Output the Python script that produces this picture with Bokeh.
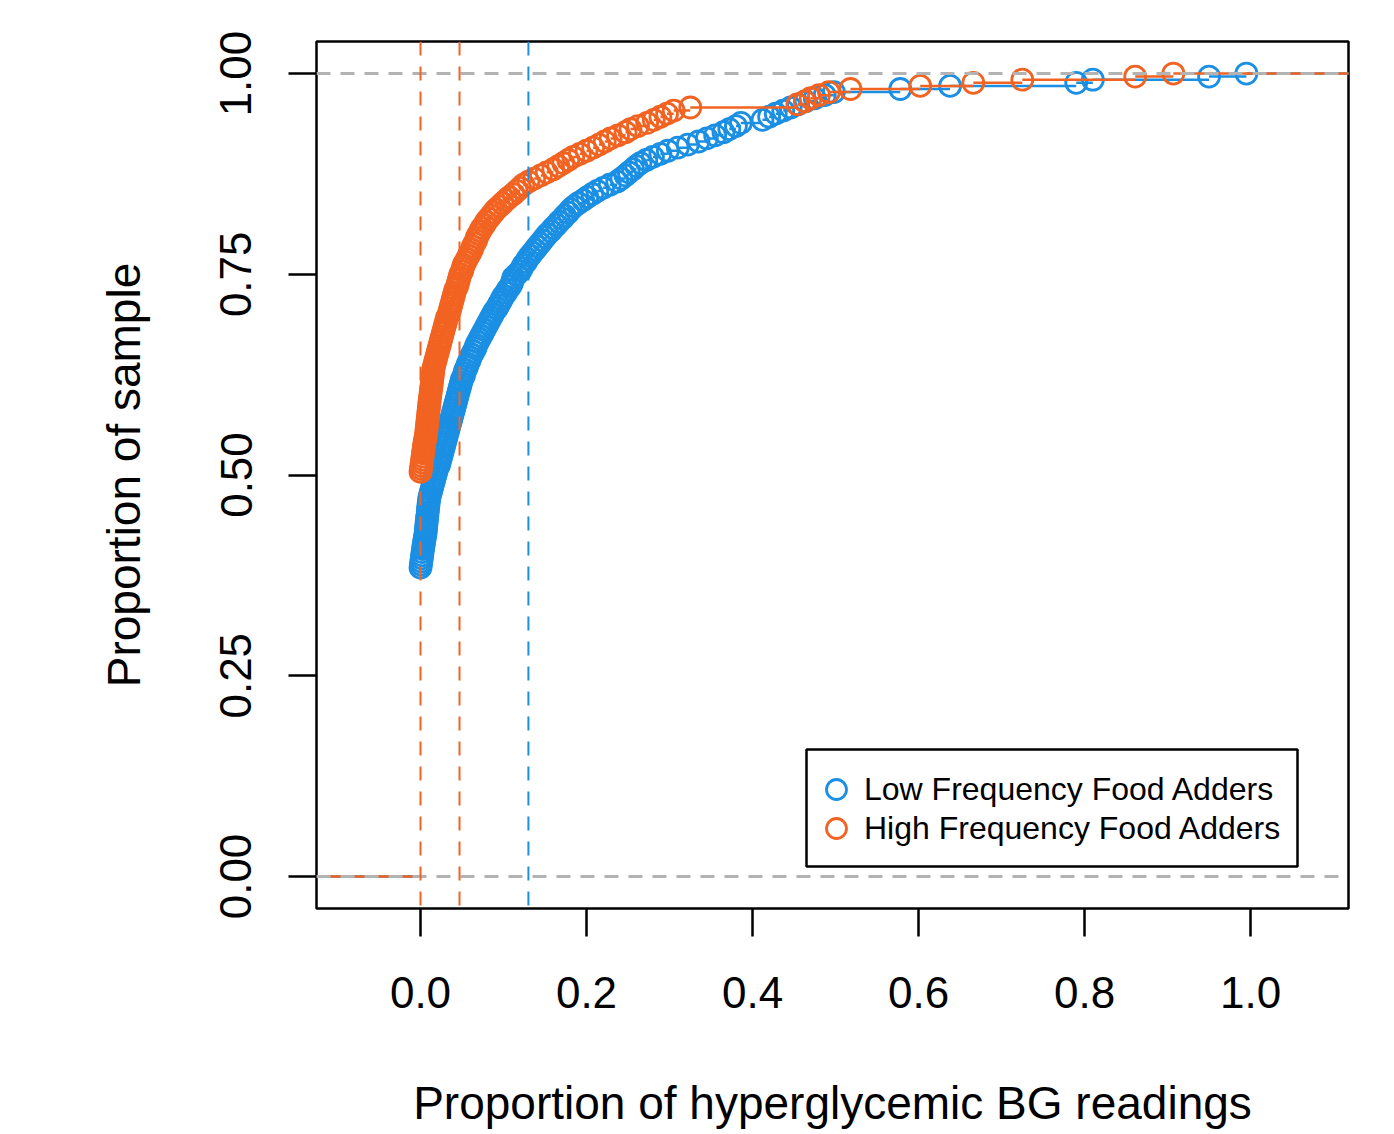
import numpy as np
from bokeh.plotting import figure
from bokeh.models import Range1d, FixedTicker, Legend, LegendItem, Span, BoxAnnotation
from bokeh.embed import file_html
from bokeh.resources import INLINE

# ---------------- data ----------------
series_names = ["Low Frequency Food Adders", "High Frequency Food Adders"]

# Low frequency group: number of participants with 0 hyperglycemic readings,
# then the positive proportions (sorted)
low_zero_count = 100
low_positive = [
    0.0005, 0.0010, 0.0015, 0.0020, 0.0025, 0.0030, 0.0036, 0.0042, 0.0048, 0.0054, 0.0060,
    0.0064, 0.0068, 0.0071, 0.0075, 0.0079, 0.0083, 0.0087, 0.0091, 0.0095, 0.0099, 0.0103,
    0.011, 0.012, 0.013, 0.014, 0.015, 0.016, 0.017, 0.018, 0.019, 0.020, 0.022,
    0.023, 0.024, 0.025, 0.026, 0.027, 0.028, 0.029, 0.030, 0.031, 0.032, 0.033,
    0.034, 0.035, 0.036, 0.037, 0.038, 0.039, 0.040, 0.041, 0.042, 0.043,
    0.044, 0.045, 0.046, 0.047, 0.048, 0.049, 0.050, 0.052, 0.053, 0.054, 0.056,
    0.057, 0.059, 0.060, 0.062, 0.064, 0.066, 0.067, 0.069, 0.071, 0.073,
    0.075, 0.077, 0.079, 0.081, 0.083, 0.085, 0.087, 0.089, 0.092, 0.094, 0.096,
    0.098, 0.100, 0.103, 0.105, 0.108, 0.110, 0.111, 0.112, 0.116, 0.120,
    0.122, 0.124, 0.127, 0.129, 0.132, 0.135, 0.138, 0.141, 0.144, 0.147, 0.150,
    0.153, 0.157, 0.160, 0.164, 0.167, 0.171, 0.174, 0.178, 0.181, 0.185,
    0.190, 0.196, 0.201, 0.207, 0.213, 0.220, 0.228, 0.237,
    0.242, 0.247, 0.251, 0.256, 0.260, 0.265,
    0.272, 0.280, 0.289, 0.298,
    0.310, 0.322, 0.335,
    0.345, 0.355, 0.365, 0.372, 0.380, 0.386,
    0.412, 0.420, 0.428, 0.437, 0.446,
    0.455, 0.464, 0.475, 0.487, 0.498,
    0.578, 0.638, 0.790, 0.810, 0.950, 0.995,
]

# High frequency group
high_zero_count = 131
high_positive = [
    0.0005, 0.0010, 0.0015, 0.0020, 0.0025, 0.0030, 0.0035, 0.0040, 0.0045, 0.0052, 0.0060, 0.0066,
    0.0070, 0.0074, 0.0078, 0.0082, 0.0086, 0.0090, 0.0094, 0.0098, 0.0102, 0.0106, 0.0110,
    0.0115, 0.0119, 0.0124, 0.0128, 0.0133, 0.0137, 0.0142, 0.0146, 0.0151, 0.0155, 0.0160,
    0.017, 0.018, 0.019, 0.020, 0.021, 0.022, 0.023, 0.024, 0.025, 0.026, 0.027,
    0.028, 0.029, 0.030, 0.031, 0.032, 0.034, 0.035, 0.036, 0.037, 0.038, 0.039,
    0.040, 0.041, 0.042, 0.044, 0.045, 0.046, 0.047, 0.048, 0.050, 0.051, 0.052,
    0.054, 0.056, 0.058, 0.060, 0.062, 0.063, 0.065, 0.067, 0.068, 0.070, 0.072,
    0.074, 0.077, 0.079, 0.082, 0.085, 0.088,
    0.091, 0.095, 0.099, 0.103, 0.107, 0.112,
    0.116, 0.120, 0.124, 0.130, 0.137, 0.145,
    0.152, 0.160, 0.166, 0.172, 0.178, 0.184,
    0.192, 0.200, 0.208, 0.215, 0.222, 0.229,
    0.238, 0.247, 0.253, 0.262, 0.273,
    0.281, 0.289, 0.297, 0.305, 0.325,
    0.454, 0.463, 0.470, 0.480, 0.492, 0.518, 0.602, 0.666, 0.725, 0.861, 0.907,
]

# dashed reference lines (vertical)
low_ref_lines = [0.130]
high_ref_lines = [0.0, 0.047]
hline_levels = [0.0, 1.0]

x_ticks = [0.0, 0.2, 0.4, 0.6, 0.8, 1.0]
x_tick_labels = ["0.0", "0.2", "0.4", "0.6", "0.8", "1.0"]
y_ticks = [0.0, 0.25, 0.5, 0.75, 1.0]
y_tick_labels = ["0.00", "0.25", "0.50", "0.75", "1.00"]

BLUE = "#1a8fe3"
ORANGE = "#f26322"
GREY = "#b3b3b3"
FONT = "Liberation Sans"

# ---------------- figure ----------------
p = figure(width=1378, height=1132, output_backend="svg", toolbar_location=None,
           x_range=Range1d(-0.1253, 1.118), y_range=Range1d(-0.0399, 1.0399),
           min_border_left=316, min_border_right=30, min_border_top=41,
           min_border_bottom=224)
p.background_fill_color = "white"
p.border_fill_color = "white"
p.grid.visible = False
p.outline_line_color = "black"
p.outline_line_width = 2.5
p.outline_line_alpha = 1.0


def ecdf(zero_count, positives):
    vals = np.sort(np.array([0.0] * zero_count + list(positives)))
    knots, counts = np.unique(vals, return_counts=True)
    F = np.cumsum(counts) / len(vals)
    return knots, F


def draw_ecdf(zero_count, positives, color):
    knots, F = ecdf(zero_count, positives)
    far = 5.0
    x0 = np.concatenate([[-far], knots])
    x1 = np.concatenate([knots, [far]])
    yy = np.concatenate([[0.0], F])
    p.segment(x0=x0, y0=yy, x1=x1, y1=yy, line_color=color, line_width=2.5)
    r = p.scatter(knots, F, marker="circle", size=21, fill_color=None,
                  line_color=color, line_width=2.8)
    return r


r_low = draw_ecdf(low_zero_count, low_positive, BLUE)
r_high = draw_ecdf(high_zero_count, high_positive, ORANGE)

for lv in hline_levels:
    p.add_layout(Span(location=lv, dimension="width", line_color=GREY,
                      line_width=3, line_dash="14 10"))
for v in high_ref_lines:
    p.add_layout(Span(location=v, dimension="height", line_color=ORANGE,
                      line_width=2, line_dash="14 11"))
for v in low_ref_lines:
    p.add_layout(Span(location=v, dimension="height", line_color=BLUE,
                      line_width=2, line_dash="14 11"))

# ---------------- axes ----------------
for ax, ticks, labels in ((p.xaxis, x_ticks, x_tick_labels),
                          (p.yaxis, y_ticks, y_tick_labels)):
    ax.ticker = FixedTicker(ticks=ticks)
    ax.major_label_overrides = {t: l for t, l in zip(ticks, labels)}
    ax.axis_line_color = None
    ax.major_tick_in = 0
    ax.major_tick_out = 28
    ax.major_tick_line_width = 2.5
    ax.major_tick_line_color = "black"
    ax.minor_tick_line_color = None
    ax.major_label_text_font = FONT
    ax.major_label_text_font_size = "44px"
    ax.major_label_text_color = "black"
    ax.axis_label_text_font = FONT
    ax.axis_label_text_font_size = "46px"
    ax.axis_label_text_font_style = "normal"
    ax.axis_label_text_color = "black"

p.xaxis.axis_label = "Proportion of hyperglycemic BG readings"
p.yaxis.axis_label = "Proportion of sample"
p.xaxis.major_label_standoff = 40
p.xaxis.axis_label_standoff = 66
p.yaxis.major_label_orientation = "vertical"
p.yaxis.major_label_standoff = 37
p.yaxis.axis_label_standoff = 68

# ---------------- legend (framed box + one row per series) ----------------
p.add_layout(BoxAnnotation(left=806, right=1297, top=749, bottom=866,
                           left_units="canvas", right_units="canvas",
                           top_units="canvas", bottom_units="canvas",
                           fill_color="white", fill_alpha=1.0,
                           line_color="black", line_width=2.5, line_alpha=1.0))

row_bottoms = [94, 55]   # px above the frame bottom
for name, rend, yb in zip(series_names, (r_low, r_high), row_bottoms):
    lg = Legend(items=[LegendItem(label=name, renderers=[rend])],
                location=(495, yb), orientation="vertical",
                border_line_color=None, background_fill_alpha=0.0,
                padding=0, spacing=0, margin=0,
                glyph_width=50, glyph_height=50, label_height=32, label_standoff=3,
                label_text_font=FONT, label_text_font_size="32px",
                label_text_color="black")
    p.add_layout(lg)

open("out.html", "w").write(file_html(p, INLINE))
